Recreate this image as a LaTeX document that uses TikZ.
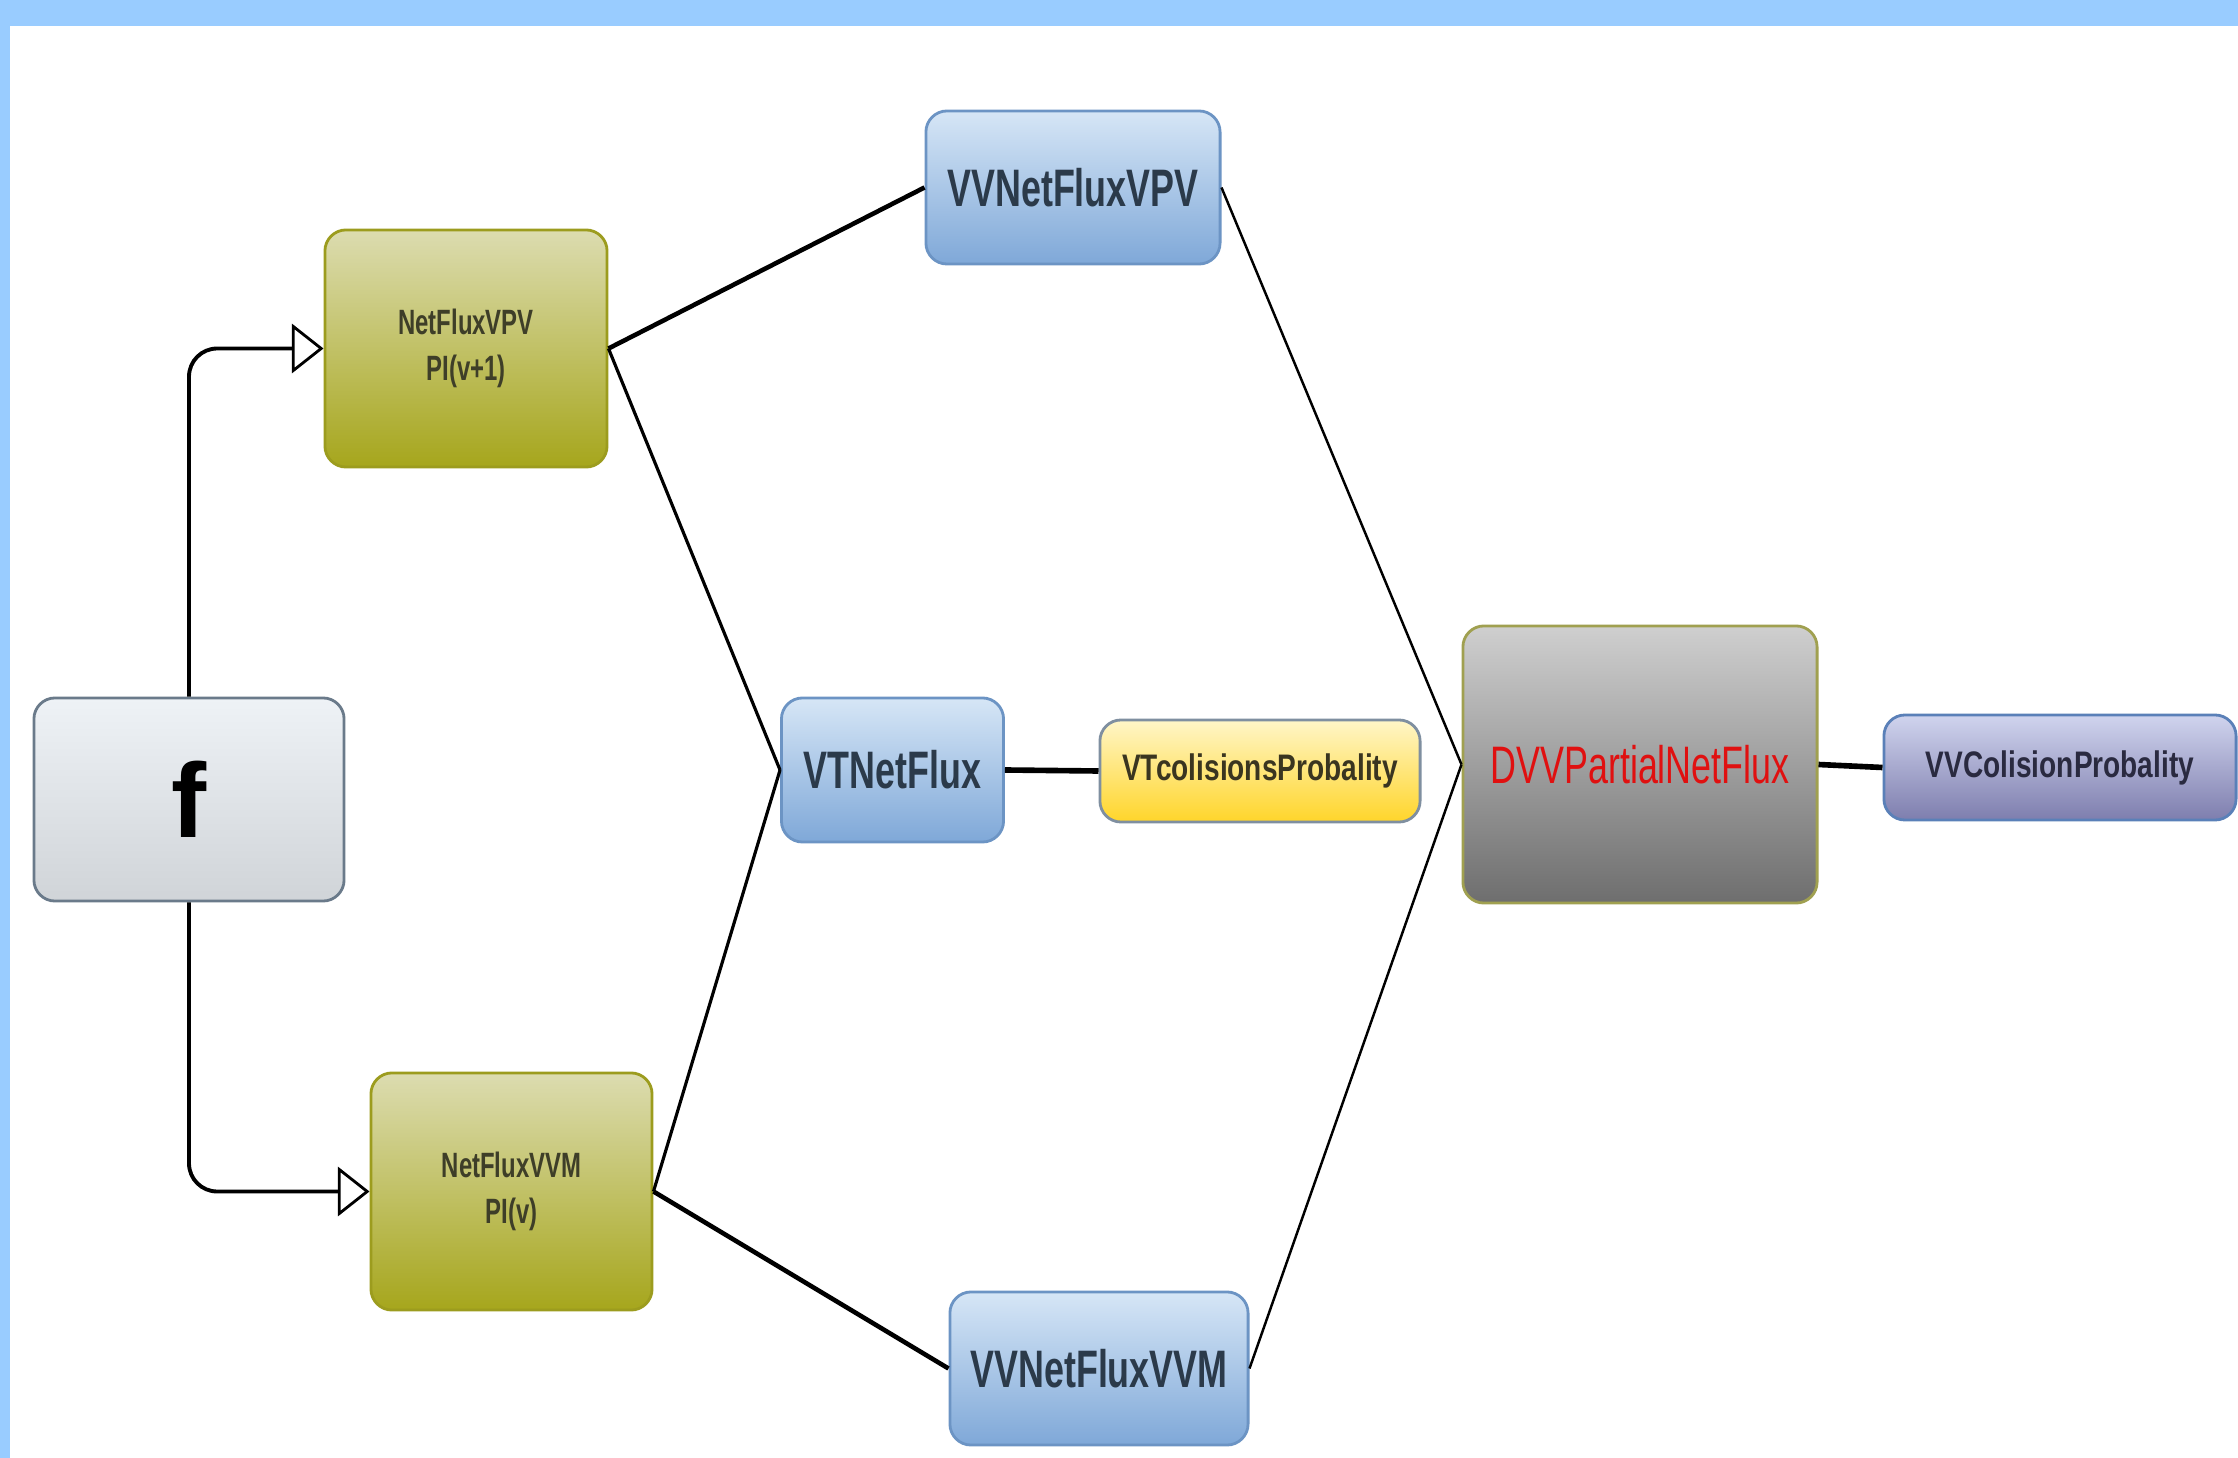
\documentclass[tikz,border=0pt]{standalone}
\usepackage{fontspec}
\setmainfont{Liberation Sans}
\newfontfamily\condA[FakeStretch=0.68]{Liberation Sans}
\newfontfamily\condB[FakeStretch=0.76]{Liberation Sans}
\usetikzlibrary{arrows.meta}
\definecolor{bgblue}{HTML}{99CCFF}
\definecolor{fTop}{HTML}{EEF2F6}
\definecolor{fBot}{HTML}{D0D4D8}
\definecolor{fLine}{HTML}{6A7A8A}
\definecolor{oTop}{HTML}{DCDCB0}
\definecolor{oBot}{HTML}{A6A61C}
\definecolor{oLine}{HTML}{9C9C1E}
\definecolor{oText}{HTML}{3E3E28}
\definecolor{bTop}{HTML}{D6E6F6}
\definecolor{bBot}{HTML}{7FA8D8}
\definecolor{bLine}{HTML}{6C94C4}
\definecolor{bText}{HTML}{2B3A4A}
\definecolor{yTop}{HTML}{FFF6C8}
\definecolor{yBot}{HTML}{FFD52A}
\definecolor{yLine}{HTML}{7F8FA0}
\definecolor{yText}{HTML}{3A3520}
\definecolor{gTop}{HTML}{CFCFCF}
\definecolor{gBot}{HTML}{6E6E6E}
\definecolor{gLine}{HTML}{A0A050}
\definecolor{gText}{HTML}{E01010}
\definecolor{lTop}{HTML}{D0D4EE}
\definecolor{lBot}{HTML}{7E7EAE}
\definecolor{lLine}{HTML}{5A80B8}
\definecolor{lText}{HTML}{2A2A40}
\tikzset{
  boxbase/.style={draw, line width=0.8pt, inner sep=0pt, align=center},
  fbox/.style={boxbase, rounded corners=6pt, draw=fLine, top color=fTop, bottom color=fBot,
    font=\bfseries\fontsize{30}{36}\selectfont, text=black},
  olivebox/.style={boxbase, rounded corners=6pt, draw=oLine, top color=oTop, bottom color=oBot,
    font=\condA\bfseries\fontsize{10}{13}\selectfont, text=oText},
  bluebox/.style={boxbase, rounded corners=6pt, draw=bLine, top color=bTop, bottom color=bBot,
    font=\condA\bfseries\fontsize{15}{18}\selectfont, text=bText},
  yellowbox/.style={boxbase, rounded corners=6pt, draw=yLine, top color=yTop, bottom color=yBot,
    font=\condB\bfseries\fontsize{10.5}{13}\selectfont, text=yText},
  graybox/.style={boxbase, rounded corners=6pt, draw=gLine, top color=gTop, bottom color=gBot,
    font=\condA\fontsize{15}{18}\selectfont, text=gText},
  lavbox/.style={boxbase, rounded corners=6pt, draw=lLine, top color=lTop, bottom color=lBot,
    font=\condB\bfseries\fontsize{10.5}{13}\selectfont, text=lText},
  elbow/.style={line width=1.1pt, rounded corners=8pt, -{Triangle[open, length=9pt, width=14pt, line width=0.8pt]}},
  lthin/.style={line width=0.7pt},
  lmid/.style={line width=0.9pt},
  lthick/.style={line width=1.3pt},
  lheavy/.style={line width=1.6pt}
}
\begin{document}
\begin{tikzpicture}[x=0.01cm, y=-0.01cm]
\fill[bgblue] (0,0) rectangle (2238,1458);
\fill[white] (10,26) rectangle (2238,1458);
\useasboundingbox (0,0) rectangle (2238,1458);

\node[fbox, minimum width=3.10cm, minimum height=2.03cm] (f) at (189,799.5) {f};
\node[olivebox, minimum width=2.82cm, minimum height=2.37cm] (pvp) at (466,348.5) {NetFluxVPV\\PI(v+1)};
\node[olivebox, minimum width=2.81cm, minimum height=2.37cm] (pvm) at (511.5,1191.5) {NetFluxVVM\\PI(v)};
\node[bluebox, minimum width=2.94cm, minimum height=1.53cm] (vvp) at (1073,187.5) {VVNetFluxVPV};
\node[bluebox, minimum width=2.22cm, minimum height=1.44cm] (vt) at (892.5,770) {VTNetFlux};
\node[yellowbox, minimum width=3.20cm, minimum height=1.02cm] (vtc) at (1260,771) {VTcolisionsProbality};
\node[bluebox, minimum width=2.98cm, minimum height=1.53cm] (vvm) at (1099,1368.5) {VVNetFluxVVM};
\node[graybox, minimum width=3.54cm, minimum height=2.77cm] (dvv) at (1640,764.5) {DVVPartialNetFlux};
\node[lavbox, minimum width=3.52cm, minimum height=1.05cm] (vvc) at (2060,767.5) {VVColisionProbality};

\draw[elbow] (f.north) |- (pvp.west);
\draw[elbow] (f.south) |- (pvm.west);
\draw[lthick] (pvp.east) -- (vvp.west);
\draw[lmid] (pvp.east) -- (vt.west);
\draw[lmid] (pvm.east) -- (vt.west);
\draw[lthick] (pvm.east) -- (vvm.west);
\draw[lheavy] (vt.east) -- (vtc.west);
\draw[lthin] (vvp.east) -- (dvv.west);
\draw[lthin] (vvm.east) -- (dvv.west);
\draw[lheavy] (dvv.east) -- (vvc.west);
\end{tikzpicture}
\end{document}
